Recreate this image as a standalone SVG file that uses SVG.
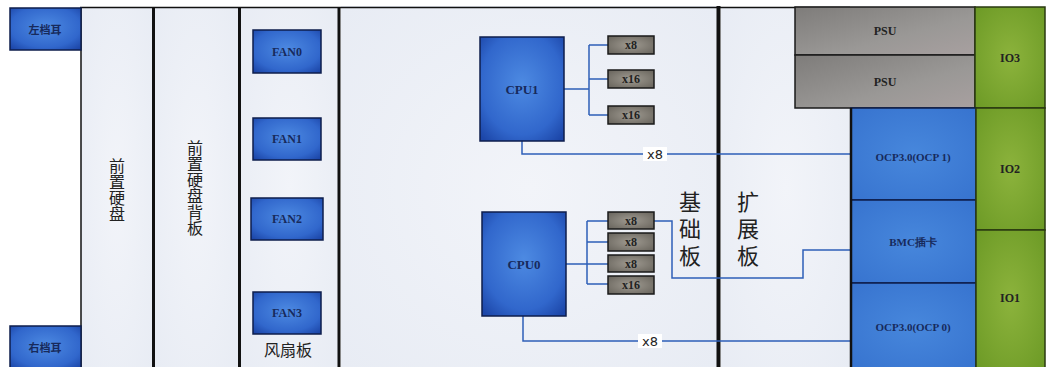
<svg xmlns="http://www.w3.org/2000/svg" width="1047" height="367" viewBox="0 0 1047 367">
<defs>
<radialGradient id="gBlue" cx="50%" cy="45%" r="70%">
<stop offset="0" stop-color="#4d8ae2"/>
<stop offset="0.7" stop-color="#3167cc"/>
<stop offset="1" stop-color="#1c46a8"/>
</radialGradient>
<radialGradient id="gOcp" cx="50%" cy="50%" r="75%">
<stop offset="0" stop-color="#4787dc"/>
<stop offset="1" stop-color="#3672ce"/>
</radialGradient>
<radialGradient id="gPcie" cx="50%" cy="50%" r="70%">
<stop offset="0" stop-color="#a09b92"/>
<stop offset="1" stop-color="#66625a"/>
</radialGradient>
<linearGradient id="gPsu" x1="0" y1="0" x2="1" y2="1">
<stop offset="0" stop-color="#7e7c7a"/>
<stop offset="0.6" stop-color="#9a9896"/>
<stop offset="1" stop-color="#a8a0a0"/>
</linearGradient>
<radialGradient id="gIo" cx="50%" cy="50%" r="75%">
<stop offset="0" stop-color="#8cb33c"/>
<stop offset="1" stop-color="#6a9824"/>
</radialGradient>
<radialGradient id="gPanel" cx="50%" cy="50%" r="70%">
<stop offset="0" stop-color="#f2f4f9"/>
<stop offset="1" stop-color="#e8ecf4"/>
</radialGradient>
</defs>
<style>
.panel{fill:url(#gPanel);}
.blue{fill:url(#gBlue);stroke:#0e1e4c;stroke-width:1.5;}
.ocp{fill:url(#gOcp);stroke:#0e1e4c;stroke-width:1.5;}
.pcie{fill:url(#gPcie);stroke:#1a1a1a;stroke-width:1.5;}
.psu{fill:url(#gPsu);stroke:#1a1a1a;stroke-width:1.5;}
.io{fill:url(#gIo);stroke:#2a3a10;stroke-width:1.5;}
.div{stroke:#111;fill:none;}
.lbl{font-family:"Liberation Serif",serif;font-weight:bold;fill:#172a5c;text-anchor:middle;dominant-baseline:central;}
.dark{fill:#222;}
.cn{font-family:"Noto Sans CJK SC",sans-serif;fill:#222;text-anchor:middle;}
.vt{font-family:"Noto Sans CJK SC",sans-serif;fill:#222;writing-mode:vertical-rl;text-anchor:start;}
.ear{font-family:"Noto Sans CJK SC",sans-serif;font-weight:bold;fill:#172a5c;text-anchor:middle;dominant-baseline:central;font-size:11px;}
.wire{stroke:#2e5fb8;stroke-width:1.5;fill:none;}
.wl{font-family:"DejaVu Sans",sans-serif;font-size:13px;fill:#222;text-anchor:middle;dominant-baseline:central;}
</style>
<rect x="0" y="0" width="1047" height="367" fill="#ffffff"/>

<g id="panels">
<rect class="panel" x="81" y="7" width="72" height="362"/>
<rect class="panel" x="155" y="7" width="84" height="362"/>
<rect class="panel" x="241" y="7" width="97" height="362"/>
<rect class="panel" x="341" y="6" width="376" height="363"/>
<rect class="panel" x="721" y="7" width="130" height="362"/>
<path class="div" stroke-width="1.5" d="M80,7.5 H850"/>
<path class="div" stroke-width="1.5" d="M81,7 V367"/>
<path class="div" stroke-width="3" d="M153.5,7 V367"/>
<path class="div" stroke-width="3" d="M239.5,7 V367"/>
<path class="div" stroke-width="3" d="M339,7 V367"/>
<path class="div" stroke-width="4" d="M718.5,6 V367"/>
</g>

<g id="text-front-disk">
<text class="vt" font-size="16" x="117" y="158">前置硬盘</text>
</g>
<g id="text-backplane">
<text class="vt" font-size="16" x="195" y="140">前置硬盘背板</text>
</g>
<g id="text-fanboard">
<text class="cn" font-size="16" x="288" y="356">风扇板</text>
</g>
<g id="text-baseboard">
<text class="vt" font-size="22" letter-spacing="5" x="690" y="191">基础板</text>
</g>
<g id="text-expboard">
<text class="vt" font-size="22" letter-spacing="5" x="748" y="191">扩展板</text>
</g>

<g id="ear-left"><rect class="blue" x="10" y="8" width="71" height="42"/><text class="ear" x="45" y="29">左档耳</text></g>
<g id="ear-right"><rect class="blue" x="10" y="326" width="71" height="44"/><text class="ear" x="45" y="347">右档耳</text></g>

<g id="fan0"><rect class="blue" x="253" y="30" width="68" height="43"/><text class="lbl" font-size="12" x="287" y="52">FAN0</text></g>
<g id="fan1"><rect class="blue" x="253" y="118" width="68" height="42"/><text class="lbl" font-size="12" x="287" y="139">FAN1</text></g>
<g id="fan2"><rect class="blue" x="251" y="198" width="72" height="42"/><text class="lbl" font-size="12" x="287" y="219">FAN2</text></g>
<g id="fan3"><rect class="blue" x="253" y="292" width="68" height="42"/><text class="lbl" font-size="12" x="287" y="313">FAN3</text></g>

<g id="connectors">
<path class="wire" d="M564,89 H589 M589,45 V115 M589,45 H608 M589,79 H608 M589,115 H608"/>
<path class="wire" d="M566,264 H587 M587,221 V284 M587,221 H608 M587,242 H608 M587,264 H608 M587,284 H608"/>
<path class="wire" d="M522,141 V154 H851"/>
<path class="wire" d="M523,316 V341 H851"/>
<path class="wire" d="M654,221 H672 V278 H803 V250 H851"/>
<rect x="643" y="147" width="24" height="14" fill="#ffffff"/>
<text class="wl" x="655" y="154">x8</text>
<rect x="638" y="334" width="24" height="14" fill="#ffffff"/>
<text class="wl" x="650" y="341">x8</text>
</g>

<g id="cpu1"><rect class="blue" x="480" y="37" width="84" height="104"/><text class="lbl" font-size="13" x="522" y="89">CPU1</text></g>
<g id="cpu0"><rect class="blue" x="482" y="212" width="84" height="104"/><text class="lbl" font-size="13" x="524" y="264">CPU0</text></g>

<g id="cpu1-p0"><rect class="pcie" x="608" y="36" width="46" height="18"/><text class="lbl dark" font-size="12" x="631" y="45">x8</text></g>
<g id="cpu1-p1"><rect class="pcie" x="608" y="70" width="46" height="18"/><text class="lbl dark" font-size="12" x="631" y="79">x16</text></g>
<g id="cpu1-p2"><rect class="pcie" x="608" y="106" width="46" height="18"/><text class="lbl dark" font-size="12" x="631" y="115">x16</text></g>
<g id="cpu0-p0"><rect class="pcie" x="608" y="212" width="46" height="17"/><text class="lbl dark" font-size="12" x="631" y="220.5">x8</text></g>
<g id="cpu0-p1"><rect class="pcie" x="608" y="233" width="46" height="18"/><text class="lbl dark" font-size="12" x="631" y="242">x8</text></g>
<g id="cpu0-p2"><rect class="pcie" x="608" y="255" width="46" height="17"/><text class="lbl dark" font-size="12" x="631" y="263.5">x8</text></g>
<g id="cpu0-p3"><rect class="pcie" x="608" y="276" width="46" height="18"/><text class="lbl dark" font-size="12" x="631" y="285">x16</text></g>

<g id="psu1"><rect class="psu" x="795" y="7" width="180" height="48"/><text class="lbl dark" font-size="12" x="885" y="31">PSU</text></g>
<g id="psu2"><rect class="psu" x="795" y="55" width="180" height="53"/><text class="lbl dark" font-size="12" x="885" y="82">PSU</text></g>
<g id="io3"><rect class="io" x="975" y="7" width="70" height="101"/><text class="lbl dark" font-size="12" x="1010" y="58">IO3</text></g>
<g id="ocp1"><rect class="ocp" x="851" y="108" width="125" height="92"/><text class="lbl" font-size="11" x="913" y="157">OCP3.0(OCP 1)</text></g>
<g id="bmc"><rect class="ocp" x="851" y="200" width="125" height="83"/><text class="lbl" font-size="11" x="913" y="242">BMC插卡</text></g>
<g id="ocp0"><rect class="ocp" x="851" y="283" width="125" height="86"/><text class="lbl" font-size="11" x="913" y="327">OCP3.0(OCP 0)</text></g>
<g id="io2"><rect class="io" x="976" y="108" width="69" height="122"/><text class="lbl dark" font-size="12" x="1010" y="169">IO2</text></g>
<g id="io1"><rect class="io" x="976" y="230" width="69" height="139"/><text class="lbl dark" font-size="12" x="1010" y="298">IO1</text></g>
<path class="div" stroke-width="2.5" d="M851,108 V367"/>
</svg>
